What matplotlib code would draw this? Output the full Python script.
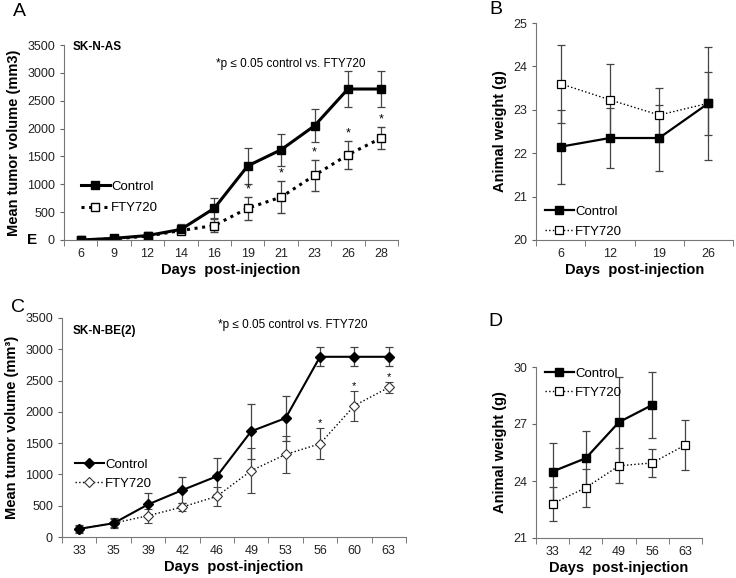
import matplotlib.pyplot as plt
from matplotlib.lines import Line2D

plt.rcParams['font.family'] = ['Liberation Sans', 'DejaVu Sans']

# Panel A - SK-N-AS tumor volume
a_days = ['6', '9', '12', '14', '16', '19', '21', '23', '26', '28']
a_ctrl = [0, 30, 80, 190, 570, 1330, 1620, 2050, 2710, 2710]
a_ctrl_err = [20, 30, 40, 90, 180, 320, 290, 300, 320, 320]
a_fty = [0, 20, 70, 170, 260, 570, 770, 1160, 1530, 1830]
a_fty_err = [10, 20, 30, 60, 110, 210, 290, 280, 250, 200]
a_star = [5, 6, 7, 8, 9]

# Panel B - SK-N-AS animal weight
b_days = ['6', '12', '19', '26']
b_ctrl = [22.15, 22.35, 22.35, 23.15]
b_ctrl_err = [0.85, 0.7, 0.75, 1.3]
b_fty = [23.6, 23.23, 22.88, 23.15]
b_fty_err = [0.9, 0.82, 0.63, 0.73]

# Panel C - SK-N-BE(2) tumor volume
c_days = ['33', '35', '39', '42', '46', '49', '53', '56', '60', '63']
c_ctrl = [130, 220, 520, 750, 970, 1690, 1900, 2880, 2880, 2880]
c_ctrl_err = [60, 80, 180, 210, 290, 440, 360, 150, 150, 150]
c_fty = [130, 220, 340, 480, 650, 1060, 1320, 1490, 2100, 2390]
c_fty_err = [50, 60, 110, 70, 150, 360, 290, 250, 240, 90]
c_star = [7, 8, 9]

# Panel D - SK-N-BE(2) animal weight
d_days = ['33', '42', '49', '56', '63']
d_ctrl = [24.5, 25.2, 27.1, 28.0]
d_ctrl_err = [1.5, 1.45, 2.4, 1.75]
d_fty = [22.8, 23.65, 24.8, 24.95, 25.9]
d_fty_err = [0.9, 1.0, 0.93, 0.75, 1.3]

W, H = 736, 578
fig = plt.figure(figsize=(W / 100, H / 100), dpi=100)


def rect(l, t, r, b):
    return [l / W, 1 - b / H, (r - l) / W, (b - t) / H]


def style(ax, labels, ylabel):
    n = len(labels)
    ax.set_xlim(-0.5, n - 0.5)
    ax.set_xticks(range(n))
    ax.set_xticklabels(labels)
    ax.set_xticks([i + 0.5 for i in range(-1, n)], minor=True)
    ax.tick_params(axis='x', which='major', length=0, pad=6, labelsize=9, colors='#222')
    ax.tick_params(axis='x', which='minor', length=4, direction='out', color='#666')
    ax.tick_params(axis='y', length=3, direction='out', color='#666', labelsize=9, labelcolor='#222')
    for s in ['top', 'right']:
        ax.spines[s].set_visible(False)
    for s in ['left', 'bottom']:
        ax.spines[s].set_color('#777')
        ax.spines[s].set_linewidth(0.8)
    ax.set_xlabel('Days  post-injection', fontsize=10.5, fontweight='bold', labelpad=2)
    ax.set_ylabel(ylabel, fontsize=10.5, fontweight='bold')


def legend(ax, handles, x, y, spacing):
    ax.legend(handles, ['Control', 'FTY720'], loc='upper left', bbox_to_anchor=(x / W, 1 - y / H),
              bbox_transform=fig.transFigure, frameon=False, fontsize=9.5, handlelength=2.2,
              handletextpad=0.1, labelspacing=spacing, borderpad=0)


ekw = dict(ecolor='#444', elinewidth=0.9, capsize=3, capthick=0.9)

# A
axA = fig.add_axes(rect(64, 45, 398, 240))
x = range(len(a_days))
fty_kw = dict(color='black', ls=(0, (1, 1.5)), lw=2.2, marker='s', ms=6, mfc='white', mec='black', mew=1)
ctrl_kw = dict(color='black', lw=2.2, marker='s', ms=6)
axA.errorbar(x, a_fty, yerr=a_fty_err, **fty_kw, **ekw)
axA.errorbar(x, a_ctrl, yerr=a_ctrl_err, **ctrl_kw, **ekw)
axA.set_ylim(0, 3500)
axA.set_yticks(range(0, 3501, 500))
style(axA, a_days, 'Mean tumor volume (mm3)')
for i in a_star:
    axA.annotate('*', (i, a_fty[i] + a_fty_err[i]), xytext=(0, 1), textcoords='offset points',
                 ha='center', va='bottom', fontsize=9)
axA.text(0.025, 0.99, 'SK-N-AS', transform=axA.transAxes, fontsize=8.5, fontweight='bold', va='center')
axA.text(0.68, 0.90, '*p \u2264 0.05 control vs. FTY720', transform=axA.transAxes, fontsize=8.5,
         ha='center', va='center')
legend(axA, [Line2D([], [], **ctrl_kw), Line2D([], [], **fty_kw)], 74, 174, 0.7)
fig.text(32 / W, 1 - 240 / H, 'E', fontsize=11, fontweight='bold', ha='center', va='center')

# B
axB = fig.add_axes(rect(536, 23, 733, 240))
x = range(len(b_days))
fty_kw = dict(color='black', ls=':', lw=1, marker='s', ms=6, mfc='white', mec='black', mew=0.9)
ctrl_kw = dict(color='black', lw=1.6, marker='s', ms=6)
axB.errorbar(x, b_fty, yerr=b_fty_err, **fty_kw, **ekw)
axB.errorbar(x, b_ctrl, yerr=b_ctrl_err, **ctrl_kw, **ekw)
axB.set_ylim(20, 25)
axB.set_yticks(range(20, 26))
style(axB, b_days, 'Animal weight (g)')
legend(axB, [Line2D([], [], **ctrl_kw), Line2D([], [], **fty_kw)], 538, 199, 0.6)

# C
axC = fig.add_axes(rect(62, 318, 406, 537))
x = range(len(c_days))
fty_kw = dict(color='black', ls=':', lw=1, marker='D', ms=5.5, mfc='white', mec='#333', mew=0.8)
ctrl_kw = dict(color='black', lw=1.5, marker='D', ms=5.5)
axC.errorbar(x, c_fty, yerr=c_fty_err, **fty_kw, **ekw)
axC.errorbar(x, c_ctrl, yerr=c_ctrl_err, **ctrl_kw, **ekw)
axC.set_ylim(0, 3500)
axC.set_yticks(range(0, 3501, 500))
style(axC, c_days, 'Mean tumor volume (mm\u00b3)')
for i in c_star:
    axC.annotate('*', (i, c_fty[i] + c_fty_err[i]), xytext=(0, 0), textcoords='offset points',
                 ha='center', va='bottom', fontsize=8)
axC.text(0.03, 0.94, 'SK-N-BE(2)', transform=axC.transAxes, fontsize=8.5, fontweight='bold', va='center')
axC.text(0.67, 0.97, '*p \u2264 0.05 control vs. FTY720', transform=axC.transAxes, fontsize=8.5,
         ha='center', va='center')
legend(axC, [Line2D([], [], **ctrl_kw), Line2D([], [], **fty_kw)], 68, 452, 0.5)

# D
axD = fig.add_axes(rect(536, 367, 702, 538))
fty_kw = dict(color='black', ls=':', lw=1, marker='s', ms=6, mfc='white', mec='black', mew=0.9)
ctrl_kw = dict(color='black', lw=1.6, marker='s', ms=6)
axD.errorbar(range(len(d_fty)), d_fty, yerr=d_fty_err, **fty_kw, **ekw)
axD.errorbar(range(len(d_ctrl)), d_ctrl, yerr=d_ctrl_err, **ctrl_kw, **ekw)
axD.set_ylim(21, 30)
axD.set_yticks([21, 24, 27, 30])
style(axD, d_days, 'Animal weight (g)')
legend(axD, [Line2D([], [], **ctrl_kw), Line2D([], [], **fty_kw)], 538, 361, 0.5)

# panel letters
fig.text(13 / W, 1 - 12 / H, 'A', fontsize=14, va='center')
fig.text(489 / W, 1 - 10 / H, 'B', fontsize=14, va='center')
fig.text(11 / W, 1 - 308 / H, 'C', fontsize=14, va='center')
fig.text(488 / W, 1 - 322 / H, 'D', fontsize=14, va='center')

fig.savefig('out.png', dpi=100)
